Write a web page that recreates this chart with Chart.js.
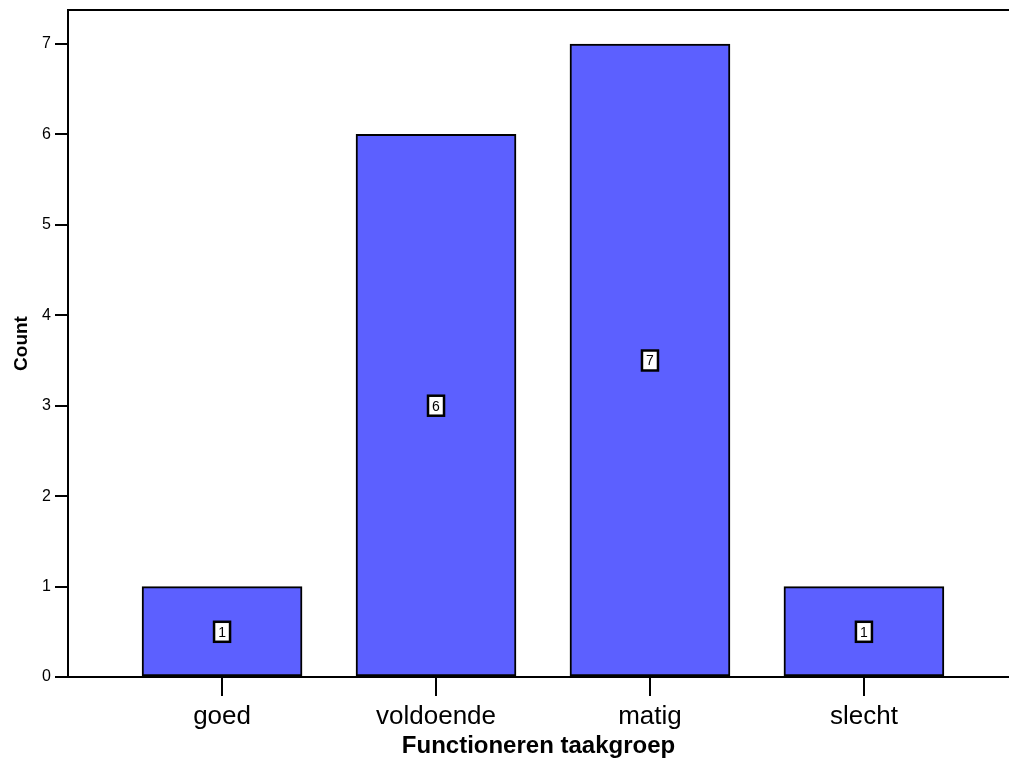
<!DOCTYPE html>
<html>
<head>
<meta charset="utf-8">
<script src="https://cdn.jsdelivr.net/npm/chart.js@4/dist/chart.umd.min.js"></script>
<style>
html,body{margin:0;padding:0;background:#fff;}
#wrap{width:1009px;height:762px;position:relative;}
</style>
</head>
<body>
<div id="wrap"><canvas id="c" width="1009" height="762"></canvas></div>
<script>
const categories = ['goed', 'voldoende', 'matig', 'slecht'];
const counts = [1, 6, 7, 1];
const yTicks = [0, 1, 2, 3, 4, 5, 6, 7];
const xTitle = 'Functioneren taakgroep';
const yTitle = 'Count';

const FONT = "'Liberation Sans', Arial, sans-serif";

const points = categories.map((c, i) => ({x: i, y: counts[i]}));

const frameAndLabels = {
  id: 'frameAndLabels',
  afterDatasetsDraw(chart) {
    const ctx = chart.ctx;
    const ca = chart.chartArea;
    ctx.save();
    ctx.strokeStyle = '#000';
    ctx.lineWidth = 2;
    ctx.beginPath();
    ctx.moveTo(ca.left - 1, ca.top);
    ctx.lineTo(ca.right, ca.top);
    ctx.stroke();
    const xs = chart.scales.x, ys = chart.scales.y;
    ctx.font = '14px ' + FONT;
    ctx.textAlign = 'center';
    ctx.textBaseline = 'middle';
    points.forEach(p => {
      const cx = xs.getPixelForValue(p.x);
      const cy = ys.getPixelForValue(p.y / 2);
      const w = 16, h = 20;
      ctx.fillStyle = '#fff';
      ctx.fillRect(cx - w / 2, cy - h / 2, w, h);
      ctx.lineWidth = 2.5;
      ctx.strokeStyle = '#000';
      ctx.strokeRect(cx - w / 2, cy - h / 2, w, h);
      ctx.fillStyle = '#000';
      ctx.fillText(String(p.y), cx, cy + 1);
    });
    ctx.restore();
  }
};

new Chart(document.getElementById('c'), {
  type: 'bar',
  data: {
    datasets: [{
      data: points,
      backgroundColor: 'rgb(92,96,255)',
      borderColor: '#000',
      borderWidth: 2,
      borderSkipped: false,
      barThickness: 160
    }]
  },
  options: {
    responsive: false,
    animation: false,
    layout: {padding: {top: 10, right: 0, left: 0, bottom: 0}},
    plugins: {legend: {display: false}, tooltip: {enabled: false}},
    scales: {
      x: {
        type: 'linear',
        offset: false,
        min: -0.72,
        max: 3.678,
        afterBuildTicks(scale) { scale.ticks = categories.map((c, i) => ({value: i})); },
        afterFit(scale) { scale.height = 85; scale.paddingLeft = 0; scale.paddingRight = 0; },
        grid: {display: true, offset: false, drawOnChartArea: false, drawTicks: true, tickLength: 19, color: '#000', lineWidth: 2},
        border: {display: true, color: '#000', width: 2},
        ticks: {
          autoSkip: false,
          maxRotation: 0,
          padding: 5,
          color: '#000',
          font: {family: FONT, size: 26},
          callback: (v) => categories[v] !== undefined ? categories[v] : ''
        },
        title: {display: true, text: xTitle, color: '#000', font: {family: FONT, size: 24, weight: 'bold'}, padding: {top: 0, bottom: 1}}
      },
      y: {
        min: 0,
        max: 7.376,
        afterBuildTicks(scale) { scale.ticks = yTicks.map(v => ({value: v})); },
        afterFit(scale) { scale.width = 68; scale.paddingTop = 0; scale.paddingBottom = 0; },
        grid: {display: true, drawOnChartArea: false, drawTicks: true, tickLength: 13, color: '#000', lineWidth: 2},
        border: {display: true, color: '#000', width: 2},
        ticks: {padding: 4, color: '#000', font: {family: FONT, size: 16}, callback: v => String(v)},
        title: {display: true, text: yTitle, color: '#000', font: {family: FONT, size: 19, weight: 'bold'}, padding: {top: 10, bottom: 0}}
      }
    }
  },
  plugins: [frameAndLabels]
});
</script>
</body>
</html>
